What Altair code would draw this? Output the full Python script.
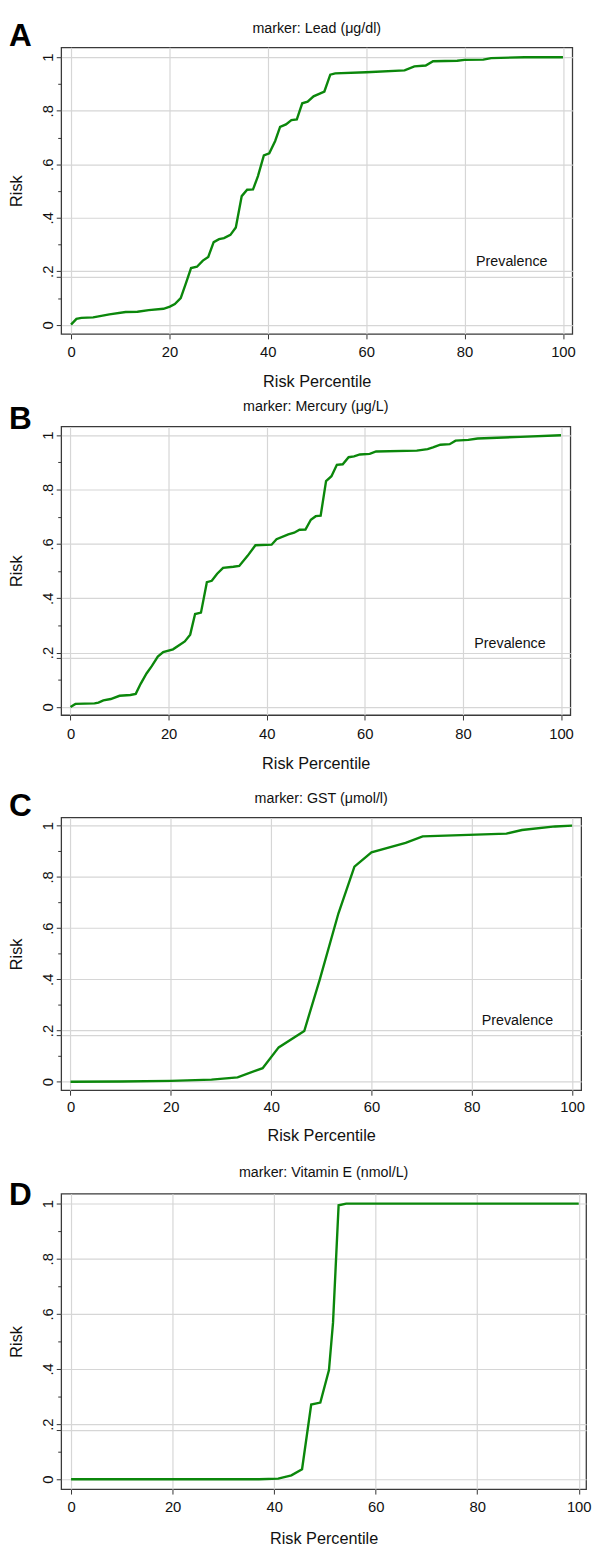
import altair as alt
import pandas as pd

FONT = "Liberation Sans"
GREEN = "#0b870b"
GRID = "#d6d6d6"
INK = "#111111"

# ---- data ----
titles = ["marker: Lead (\u03bcg/dl)", "marker: Mercury (\u03bcg/L)",
          "marker: GST (\u03bcmol/l)", "marker: Vitamin E (nmol/L)"]
letters = ["A", "B", "C", "D"]

A_x = [0, 1.1, 2.1, 4.5, 7.8, 11.1, 13.5, 15.8, 18.8, 20.1, 21.1, 22.3, 23.4, 24.4, 25.6,
       26.8, 27.9, 29.0, 30.1, 31.1, 32.4, 33.5, 34.7, 35.8, 37.0, 38.0, 39.2, 40.3, 41.5,
       42.5, 43.7, 44.8, 45.9, 47.0, 48.1, 49.3, 51.5, 52.7, 53.7, 60.0, 67.8, 69.8, 72.1,
       73.6, 78.5, 80.0, 83.8, 85.4, 92.2, 100]
A_y = [0.001, 0.022, 0.026, 0.028, 0.039, 0.048, 0.049, 0.055, 0.060, 0.068, 0.078, 0.100,
       0.158, 0.212, 0.217, 0.240, 0.254, 0.309, 0.320, 0.324, 0.336, 0.364, 0.481, 0.505,
       0.506, 0.556, 0.633, 0.641, 0.687, 0.740, 0.749, 0.765, 0.768, 0.828, 0.834, 0.854,
       0.872, 0.935, 0.940, 0.944, 0.951, 0.966, 0.969, 0.985, 0.987, 0.990, 0.991, 0.997,
       1.0, 1.0]

B_x = [0, 1.0, 4.9, 5.7, 6.7, 8.2, 10.0, 12.2, 13.3, 14.3, 15.5, 16.6, 17.8, 18.9, 20.9,
       23.3, 24.4, 25.4, 26.6, 27.8, 28.8, 29.9, 31.1, 33.2, 34.4, 36.1, 37.7, 41.0, 42.0,
       44.4, 45.6, 46.7, 47.9, 49.0, 50.0, 51.0, 52.1, 53.2, 54.3, 55.5, 56.7, 57.8, 59.0,
       61.0, 62.3, 70.6, 72.8, 73.9, 75.4, 77.3, 78.5, 81.1, 83.0, 91.7, 100]
B_y = [0, 0.011, 0.013, 0.016, 0.024, 0.029, 0.041, 0.044, 0.048, 0.085, 0.123, 0.151,
       0.185, 0.202, 0.212, 0.241, 0.266, 0.342, 0.347, 0.459, 0.464, 0.490, 0.512, 0.516,
       0.519, 0.556, 0.595, 0.597, 0.617, 0.635, 0.641, 0.652, 0.653, 0.689, 0.702, 0.704,
       0.831, 0.849, 0.891, 0.893, 0.919, 0.922, 0.929, 0.931, 0.940, 0.943, 0.949, 0.955,
       0.965, 0.967, 0.980, 0.983, 0.988, 0.994, 1.0]

C_x = [0, 10.0, 20.0, 28.1, 33.3, 38.3, 41.5, 46.6, 49.7, 53.4, 56.6, 60.0, 66.8, 70.2,
       86.9, 90.0, 96.6, 100]
C_y = [0, 0.001, 0.003, 0.008, 0.017, 0.053, 0.134, 0.198, 0.400, 0.657, 0.840, 0.896,
       0.933, 0.958, 0.969, 0.983, 0.997, 1.0]

D_x = [0, 37.0, 40.8, 43.4, 45.5, 47.3, 49.1, 50.8, 51.6, 52.7, 54.2, 100]
D_y = [0, 0, 0.002, 0.014, 0.036, 0.271, 0.278, 0.396, 0.568, 0.994, 1.0, 1.0]

series_x = [A_x, B_x, C_x, D_x]
series_y = [A_y, B_y, C_y, D_y]

prev_label_x = [89.6, 89.6, 89.1]
prev_label_y = [0.233, 0.233, 0.236]

x_ticks = [0, 20, 40, 60, 80, 100]
y_major = [0, 0.2, 0.4, 0.6, 0.8, 1]
y_minor = [0.1, 0.3, 0.5, 0.7, 0.9]
prevalence = [0.18]

# ---- layout (per panel) ----
widths = [519, 517, 528, 533]
heights = [291, 293, 277, 300]
gaps = [93.7, 104, 104.3]           # plot-to-plot vertical gaps
xdoms = [[-2.0, 101.9], [-1.9, 101.9], [-1.86, 101.8], [-1.95, 101.45]]
ydoms = [[-0.034, 1.037], [-0.030, 1.032], [-0.0335, 1.032], [-0.036, 1.036]]
title_dy = [-18.5, -19.8, -19.2, -20.5]
letter_dy = [-1, 2.7, -1, 11]
label_pad = [5.9, 6.7, 4.7, 6.2]
xtitle_y = [48.5, 49.3, 46.3, 50.3]

minor_test = "indexof([0.1,0.3,0.5,0.7,0.9], datum.value) >= 0"
y_label_expr = ("datum.value == 1 ? '1' : datum.value == 0.8 ? '.8' : datum.value == 0.6 ? '.6' : "
                "datum.value == 0.4 ? '.4' : datum.value == 0.2 ? '.2' : datum.value == 0 ? '0' : ''")


def panel(i):
    w, h = widths[i], heights[i]
    df = pd.DataFrame({"p": series_x[i], "r": series_y[i]})
    xaxis = alt.Axis(values=x_ticks, title="Risk Percentile", labelPadding=label_pad[i],
                     labelFlush=False, labelOverlap=False, tickSize=5,
                     titleY=xtitle_y[i], titleX=w / 2, titleBaseline="middle",
                     titleAlign="center", grid=True)
    yaxis = alt.Axis(values=sorted(y_major + y_minor + prevalence), title="Risk",
                     labelAngle=270, labelAlign="center", labelBaseline="alphabetic",
                     labelPadding=3.6, labelExpr=y_label_expr, labelOverlap=False,
                     labelFlush=False,
                     tickSize={"condition": {"test": minor_test, "value": 3.5}, "value": 5},
                     gridOpacity={"condition": {"test": minor_test, "value": 0}, "value": 1},
                     titleAngle=270, titleX=-45, titleY=h / 2, titleBaseline="middle",
                     titleAlign="center", grid=True)
    xenc = alt.X("p:Q", scale=alt.Scale(domain=xdoms[i], nice=False, zero=False), axis=xaxis)
    yenc = alt.Y("r:Q", scale=alt.Scale(domain=ydoms[i], nice=False, zero=False), axis=yaxis)

    line = alt.Chart(df).mark_line(color=GREEN, strokeWidth=2.4).encode(x=xenc, y=yenc)
    layers = [line]
    if i < len(prev_label_x):
        pdf = pd.DataFrame({"p": [prev_label_x[i]], "r": [prev_label_y[i]], "t": ["Prevalence"]})
        layers.append(alt.Chart(pdf).mark_text(font=FONT, fontSize=14.5, color=INK,
                                               align="center", baseline="middle")
                      .encode(x=xenc, y=yenc, text="t:N"))
    tdf = pd.DataFrame({"t": [titles[i]]})
    layers.append(alt.Chart(tdf).mark_text(font=FONT, fontSize=14.5, color=INK,
                                           align="center", baseline="middle")
                  .encode(text="t:N", x=alt.value(w / 2), y=alt.value(title_dy[i])))
    ldf = pd.DataFrame({"t": [letters[i]]})
    layers.append(alt.Chart(ldf).mark_text(font=FONT, fontSize=32, fontWeight="bold",
                                           color="#000000", align="left",
                                           baseline="alphabetic")
                  .encode(text="t:N", x=alt.value(-53), y=alt.value(letter_dy[i])))
    return alt.layer(*layers).properties(width=w, height=h)


def spacer(hgt):
    return (alt.Chart(pd.DataFrame({"a": [0]}))
            .mark_point(opacity=0)
            .encode(x=alt.value(0), y=alt.value(0))
            .properties(width=10, height=hgt,
                        view=alt.ViewBackground(strokeOpacity=0)))


rows = []
for i in range(4):
    rows.append(panel(i))
    if i < 3:
        rows.append(spacer(gaps[i]))

chart = alt.vconcat(*rows, spacing=0, bounds="flush").properties(padding=0).configure_view(
    stroke="#3a3a3a", strokeWidth=1.3
).configure_axis(
    domain=False, tickColor="#333333", tickWidth=1, gridColor=GRID, gridWidth=1.2,
    labelFont=FONT, labelFontSize=15, labelColor=INK,
    titleFont=FONT, titleFontSize=16.5, titleFontWeight="normal", titleColor=INK,
)

chart.save("out.html", embed_options={"renderer": "svg", "actions": False})
